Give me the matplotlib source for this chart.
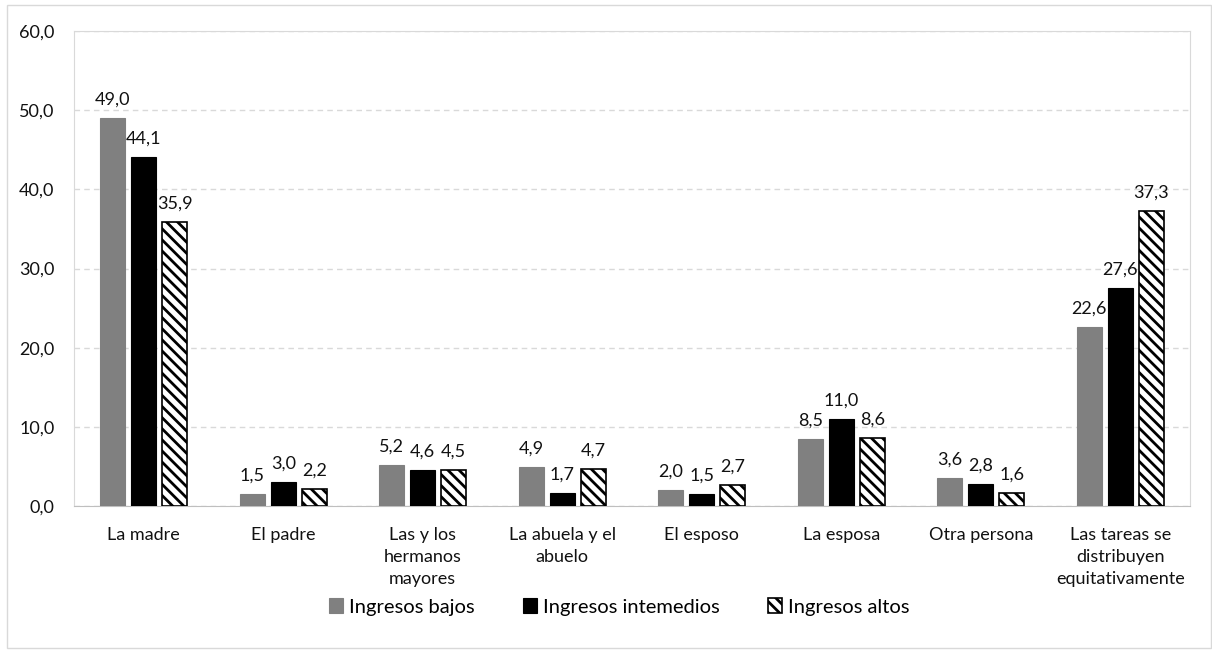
import matplotlib
matplotlib.use("Agg")
import matplotlib.pyplot as plt
import numpy as np
from matplotlib.patches import Rectangle

plt.rcParams['font.family'] = ['Lato', 'DejaVu Sans']
plt.rcParams['hatch.linewidth'] = 2.0

categories = ["La madre", "El padre", "Las y los\nhermanos\nmayores", "La abuela y el\nabuelo",
              "El esposo", "La esposa", "Otra persona", "Las tareas se\ndistribuyen\nequitativamente"]
bajos = [49.0, 1.5, 5.2, 4.9, 2.0, 8.5, 3.6, 22.6]
intermedios = [44.1, 3.0, 4.6, 1.7, 1.5, 11.0, 2.8, 27.6]
altos = [35.9, 2.2, 4.5, 4.7, 2.7, 8.6, 1.6, 37.3]
series_names = ["Ingresos bajos", "Ingresos intemedios", "Ingresos altos"]
yticks = [0, 10, 20, 30, 40, 50, 60]

fig = plt.figure(figsize=(12.12, 6.53), dpi=100)
# outer chart border
fig.patches.append(Rectangle((7/1212, 1 - 648/653), 1204/1212, 643/653, transform=fig.transFigure,
                             fill=False, edgecolor='#d9d9d9', linewidth=1))
ax = fig.add_axes([74/1212, 1 - 506/653, (1190-74)/1212, (506-31)/653])

x = np.arange(len(categories))
w = 0.18
step = 0.222
b1 = ax.bar(x - step, bajos, w, color='#808080', edgecolor='#808080', linewidth=0.8, label=series_names[0], zorder=3)
b2 = ax.bar(x, intermedios, w, color='black', edgecolor='black', linewidth=0.8, label=series_names[1], zorder=3)
b3 = ax.bar(x + step, altos, w, color='white', edgecolor='black', linewidth=1.2, hatch='\\\\\\', label=series_names[2], zorder=3)

fmt = lambda v: f"{v:.1f}".replace('.', ',')
for bars, vals in [(b1, bajos), (b2, intermedios), (b3, altos)]:
    for r, v in zip(bars, vals):
        ax.text(r.get_x() + r.get_width()/2, v + 1.3, fmt(v), ha='center', va='bottom', fontsize=13, color='#111111', zorder=4)

ax.set_ylim(0, 60)
ax.set_xlim(-0.5, len(categories) - 0.5)
ax.set_yticks(yticks)
ax.set_yticklabels([fmt(t) for t in yticks], fontsize=13, color='#111111')
ax.set_xticks(x)
ax.set_xticklabels(categories, fontsize=13, color='#111111', linespacing=1.45)
ax.tick_params(axis='both', length=0)
ax.tick_params(axis='y', pad=14)
ax.tick_params(axis='x', pad=15)
ax.yaxis.grid(True, linestyle=(0, (4, 3)), color='#d9d9d9', linewidth=1, zorder=0)
ax.set_axisbelow(True)
for s in ['top', 'right', 'left']:
    ax.spines[s].set_color('#d9d9d9')
ax.spines['bottom'].set_color('#bfbfbf')

leg = fig.legend(handles=[b1, b2, b3], labels=series_names, loc='center', bbox_to_anchor=(0.511, 1 - 607/653),
                 ncol=3, frameon=False, fontsize=14.5, handlelength=0.7, handleheight=0.7,
                 handletextpad=0.3, columnspacing=2.4)

fig.savefig("out.png", dpi=100)
